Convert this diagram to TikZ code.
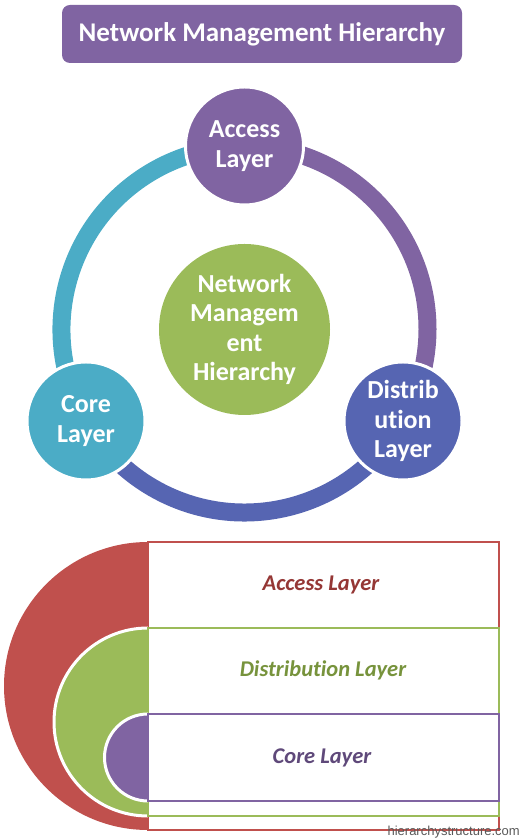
\documentclass[tikz,border=0pt]{standalone}
\usepackage{fontspec}
\setmainfont{Carlito}[Ligatures=NoCommon]
\newfontfamily\markfont{Liberation Sans}
\definecolor{hPurple}{RGB}{128,100,162}
\definecolor{hTeal}{RGB}{75,172,198}
\definecolor{hGreen}{RGB}{155,187,89}
\definecolor{hIndigo}{RGB}{86,101,178}
\definecolor{hRed}{RGB}{192,80,77}
\definecolor{hDarkRed}{RGB}{149,55,53}
\definecolor{hOlive}{RGB}{119,147,60}
\definecolor{hDarkPurple}{RGB}{95,73,122}
\tikzset{
	layer/.style={circle, draw=white, line width=3pt, inner sep=0pt, minimum size=118pt,
		align=center, text=white, font=\fontsize{26}{29.5}\selectfont\bfseries},
	ring/.style={line width=18pt},
	band/.style={line width=2pt, fill=white},
	bandtext/.style={font=\fontsize{22.5}{26}\selectfont\bfseries\itshape},
}
\begin{document}
\begin{tikzpicture}[x=1pt, y=1pt]
		\useasboundingbox (0,0) rectangle (521,840);
		%%%%%%%%%%%%%
		\node[fill=hPurple, rounded corners=8pt, minimum width=400pt, minimum height=58pt,
			text=white, font=\fontsize{27}{30}\selectfont\bfseries] (title) at (262,806) {Network Management Hierarchy};
		%%%%%%%%%%%%%
		\coordinate (accessc) at (244.5,694);
		\coordinate (distc) at (403,419);
		\coordinate (corec) at (86,419);
		\draw[ring, hPurple] (accessc) arc[start angle=90, end angle=-30, radius=183];
		\draw[ring, hIndigo] (distc) arc[start angle=-30, end angle=-150, radius=183];
		\draw[ring, hTeal] (corec) arc[start angle=210, end angle=90, radius=183];
		\node[layer, fill=hPurple] (access) at (accessc) {Access\\Layer};
		\node[layer, fill=hIndigo] (dist) at (distc) {Distrib\\ution\\Layer};
		\node[layer, fill=hTeal] (core) at (corec) {Core\\Layer};
		\node[layer, fill=hGreen, draw=none, minimum size=171pt] (center) at (244.5,510.5) {Network\\Managem\\ent\\Hierarchy};
		%%%%%%%%%%%%%
		\fill[hRed] (148,298) arc[start angle=90, end angle=270, radius=144] -- cycle;
		\draw[band, draw=hRed] (148,10) rectangle (499,298);
		\fill[hGreen] (148,212) arc[start angle=90, end angle=270, radius=94] -- cycle;
		\draw[white, line width=3pt] (148,212) arc[start angle=90, end angle=270, radius=94];
		\draw[band, draw=hGreen] (148,24) rectangle (499,212);
		\fill[hPurple] (148,126) arc[start angle=90, end angle=270, radius=43.5] -- cycle;
		\draw[white, line width=3pt] (148,126) arc[start angle=90, end angle=270, radius=43.5];
		\draw[band, draw=hPurple] (148,39) rectangle (499,126);
		\node[bandtext, text=hDarkRed] (accesstext) at (321,255) {Access Layer};
		\node[bandtext, text=hOlive] (disttext) at (323,170) {Distribution Layer};
		\node[bandtext, text=hDarkPurple] (coretext) at (322,82) {Core Layer};
		%%%%%%%%%%%%%
		\node[anchor=base east, inner sep=0pt, text=black!65, font=\markfont\fontsize{13}{15}\selectfont] (mark) at (520,5) {hierarchystructure.com};
\end{tikzpicture}
\end{document}
